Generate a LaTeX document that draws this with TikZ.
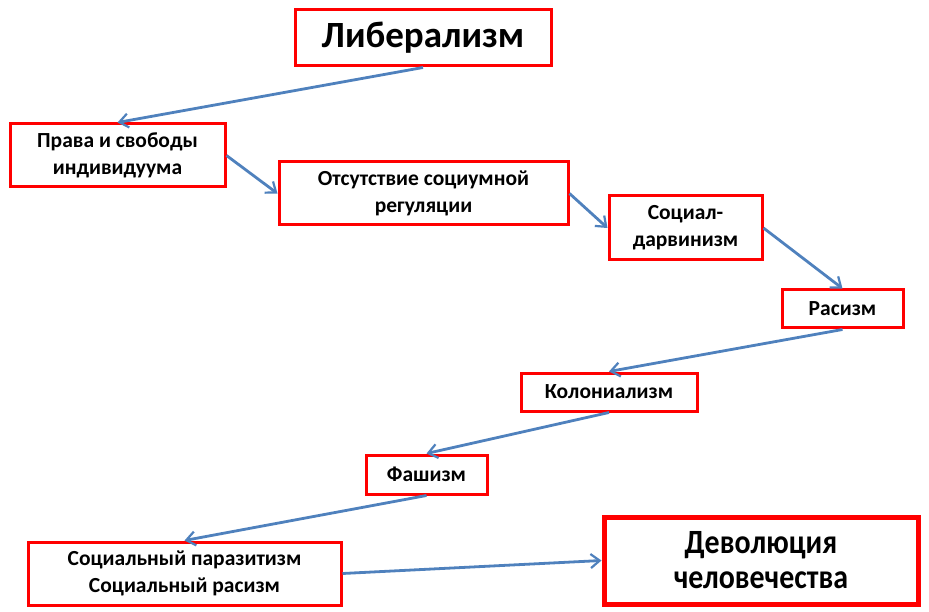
\documentclass[tikz,border=0pt]{standalone}
\usepackage{fontspec}
\setmainfont{Carlito}
\usetikzlibrary{arrows.meta}
\definecolor{boxred}{RGB}{255,0,0}
\definecolor{arrblue}{RGB}{79,129,189}
\newcommand{\cond}[2]{\scalebox{#1}[1]{#2}}
\tikzset{
  stepbox/.style={draw=boxred, line width=3pt, fill=white, align=center, inner sep=0pt, font=\bfseries\fontsize{21.5}{27}\selectfont},
  bigbox/.style={stepbox, line width=5pt, font=\bfseries\fontsize{34}{35}\selectfont},
  conn/.style={draw=arrblue, line width=2.8pt, -{Straight Barb[length=9pt,width=14pt,line width=2.2pt]}}
}
\begin{document}
\begin{tikzpicture}[x=1pt,y=-1pt]
\useasboundingbox (0,0) rectangle (929,612);
\node[stepbox, minimum width=256pt, minimum height=56pt, font=\bfseries\fontsize{37}{40}\selectfont] (lib) at (423,38) {Либерализм};
\node[stepbox, minimum width=215pt, minimum height=63pt] (prava) at (117.5,155.5) {Права и свободы\\индивидуума};
\node[stepbox, minimum width=289pt, minimum height=63pt] (ots) at (423.5,193.5) {Отсутствие социумной\\регуляции};
\node[stepbox, minimum width=153pt, minimum height=64pt] (soc) at (685.5,228) {Социал-\\дарвинизм};
\node[stepbox, minimum width=121pt, minimum height=38pt] (ras) at (842.5,309) {Расизм};
\node[stepbox, minimum width=176pt, minimum height=38pt] (kol) at (609,392) {Колониализм};
\node[stepbox, minimum width=121pt, minimum height=39pt] (fash) at (426.5,474.5) {Фашизм};
\node[stepbox, minimum width=313pt, minimum height=63pt] (par) at (184.5,573.5) {Социальный паразитизм\\Социальный расизм};
\node[bigbox, minimum width=314pt, minimum height=87pt] (dev) at (761,560.5) {\cond{0.88}{Деволюция}\\\cond{0.88}{человечества}};
\draw[conn] (lib.south) -- (prava.north);
\draw[conn] (prava.east) -- (ots.west);
\draw[conn] (ots.east) -- (soc.west);
\draw[conn] (soc.east) -- (ras.north);
\draw[conn] (ras.south) -- (kol.north);
\draw[conn] (kol.south) -- (fash.north);
\draw[conn] (fash.south) -- (par.north);
\draw[conn] (par.east) -- (dev.west);
\end{tikzpicture}
\end{document}
